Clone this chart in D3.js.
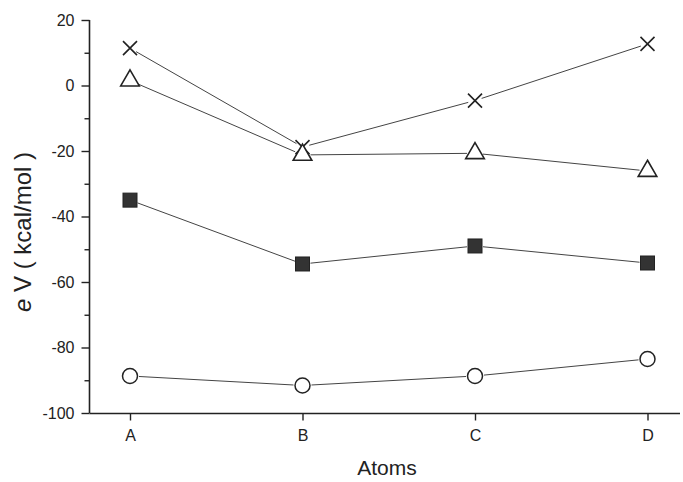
<!DOCTYPE html>
<html><head><meta charset="utf-8">
<script src="https://cdn.jsdelivr.net/npm/d3@7"></script>
<style>body{margin:0;background:#fff}svg{display:block}</style>
</head><body>
<script>
const categories = ["A","B","C","D"];
const crossVals = [11.4, -18.8, -4.6, 12.7];
const triVals = [1.5, -21.2, -20.7, -26.1];
const squareVals = [-35.0, -54.5, -49.0, -54.2];
const circleVals = [-88.7, -91.6, -88.7, -83.5];
const yTicks = [20, 0, -20, -40, -60, -80, -100];
const yMinorTicks = [10, -10, -30, -50, -70, -90];

const W = 683, H = 482;
const font = "Liberation Sans, Arial, sans-serif";
const svg = d3.select("body").append("svg").attr("width", W).attr("height", H);
const x = d3.scalePoint().domain(categories).range([130, 647.5]);
const y = d3.scaleLinear().domain([-100, 20]).range([413, 20]);
const ink = "#222";

// axes
const yAxis = svg.append("g").attr("transform", "translate(89.5,0)")
  .call(d3.axisLeft(y).tickValues(yTicks).tickSize(8).tickPadding(7).tickFormat(d => String(d)));
yAxis.select(".domain").attr("d", `M0,${y(20)}V${y(-100)}`);
const yMinor = svg.append("g").attr("transform", "translate(89.5,0)")
  .call(d3.axisLeft(y).tickValues(yMinorTicks).tickSize(5).tickFormat(""));
yMinor.select(".domain").remove();

const xAxis = svg.append("g").attr("transform", "translate(0,413.5)")
  .call(d3.axisBottom(x).tickSize(7).tickPadding(9));
xAxis.select(".domain").attr("d", `M89.5,0H680`);

svg.selectAll("g").attr("font-family", font).attr("font-size", 16);
svg.selectAll(".domain").attr("stroke", ink).attr("stroke-width", 1.6);
svg.selectAll(".tick line").attr("stroke", ink).attr("stroke-width", 1.4);
svg.selectAll(".tick text").attr("fill", "#222").attr("font-family", font).attr("font-size", 16);

// axis titles
svg.append("text").attr("x", 387).attr("y", 475).attr("text-anchor", "middle")
  .attr("font-family", font).attr("font-size", 21).attr("fill", "#222").text("Atoms");
const yl = svg.append("text").attr("transform", "translate(31,232) rotate(-90)").attr("text-anchor", "middle")
  .attr("font-family", font).attr("font-size", 24).attr("fill", "#222");
yl.append("tspan").attr("font-style", "italic").text("e");
yl.append("tspan").text(" V ( kcal/mol )");

// series
const series = [
  {vals: crossVals, shape: "cross", gap: 7},
  {vals: triVals, shape: "tri", gap: 8},
  {vals: squareVals, shape: "square", gap: 8},
  {vals: circleVals, shape: "circle", gap: 9}
];
series.forEach(s => {
  const pts = categories.map((c, i) => [x(c), y(s.vals[i])]);
  for (let i = 0; i < pts.length - 1; i++) {
    const [x1, y1] = pts[i], [x2, y2] = pts[i + 1];
    const dx = x2 - x1, dy = y2 - y1, L = Math.hypot(dx, dy);
    const ux = dx / L, uy = dy / L;
    svg.append("line")
      .attr("x1", x1 + ux * s.gap).attr("y1", y1 + uy * s.gap)
      .attr("x2", x2 - ux * s.gap).attr("y2", y2 - uy * s.gap)
      .attr("stroke", "#444").attr("stroke-width", 1);
  }
  const g = svg.append("g");
  pts.forEach(([px, py]) => {
    if (s.shape === "cross") {
      const r = 7;
      g.append("path").attr("d", `M${px-r},${py-r}L${px+r},${py+r}M${px-r},${py+r}L${px+r},${py-r}`)
        .attr("stroke", ink).attr("stroke-width", 1.6).attr("fill", "none");
    } else if (s.shape === "tri") {
      g.append("path").attr("d", d3.symbol(d3.symbolTriangle, 150)())
        .attr("transform", `translate(${px},${py})`)
        .attr("fill", "#fff").attr("stroke", ink).attr("stroke-width", 1.6);
    } else if (s.shape === "square") {
      g.append("rect").attr("x", px - 7).attr("y", py - 7).attr("width", 14).attr("height", 14)
        .attr("fill", "#333").attr("stroke", "#222").attr("stroke-width", 1);
    } else {
      g.append("circle").attr("cx", px).attr("cy", py).attr("r", 7.5)
        .attr("fill", "#fff").attr("stroke", ink).attr("stroke-width", 1.5);
    }
  });
});
</script>
</body></html>
